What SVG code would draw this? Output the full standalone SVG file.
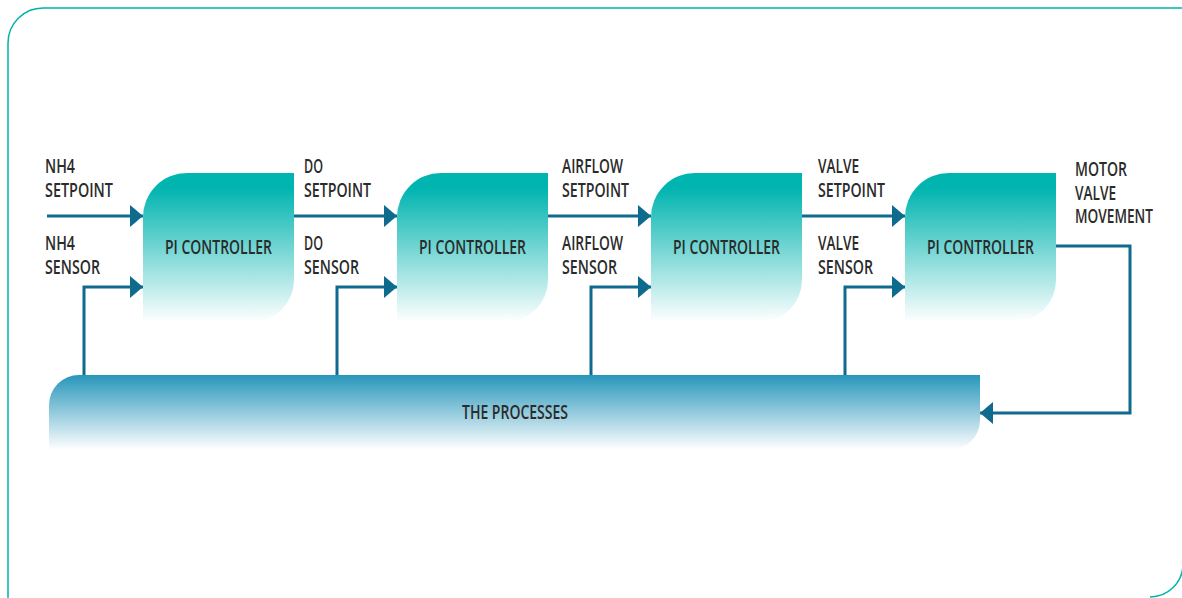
<svg xmlns="http://www.w3.org/2000/svg" width="1182" height="598" viewBox="0 0 1182 598">
<defs>
<linearGradient id="gc" x1="0" y1="0" x2="0" y2="1">
<stop offset="0" stop-color="#00b4af"/>
<stop offset="0.1" stop-color="#00b4af"/>
<stop offset="1" stop-color="#ffffff"/>
</linearGradient>
<linearGradient id="gp" x1="0" y1="0" x2="0" y2="1">
<stop offset="0" stop-color="#2796bb"/>
<stop offset="1" stop-color="#ffffff"/>
</linearGradient>
<marker id="ah" viewBox="0 0 13 22" refX="13" refY="11" markerWidth="13" markerHeight="22" markerUnits="userSpaceOnUse" orient="auto">
<path d="M0 0 L13 11 L0 22 Z" fill="#0f6b8e"/>
</marker>
</defs>
<style>
text{font-family:"Open Sans","DejaVu Sans Condensed",sans-serif;font-size:20.5px;font-weight:600;fill:#2b2b2b;}
.c{text-anchor:middle;}
.ln{fill:none;stroke:#0f6b8e;stroke-width:3;}
.ctl{fill:url(#gc);}
</style>
<path d="M8 598 L8 43 A35 35 0 0 1 43 8 L1182 8 M1150 597 A33 33 0 0 0 1183 564" fill="none" stroke="#00b2ad" stroke-width="1.5"/>

<g id="connectors">
<line class="ln" x1="47" y1="216" x2="143" y2="216" marker-end="url(#ah)"/>
<line class="ln" x1="294" y1="216" x2="397" y2="216" marker-end="url(#ah)"/>
<line class="ln" x1="548" y1="216" x2="651" y2="216" marker-end="url(#ah)"/>
<line class="ln" x1="802" y1="216" x2="905" y2="216" marker-end="url(#ah)"/>
<polyline class="ln" points="84,376 84,287 143,287" marker-end="url(#ah)"/>
<polyline class="ln" points="337,376 337,287 397,287" marker-end="url(#ah)"/>
<polyline class="ln" points="591,376 591,287 651,287" marker-end="url(#ah)"/>
<polyline class="ln" points="845,376 845,287 905,287" marker-end="url(#ah)"/>
<polyline class="ln" points="1056,246 1130,246 1130,413 980,413" marker-end="url(#ah)"/>
</g>

<g id="processes">
<path d="M49 450 L49 405 A30 30 0 0 1 79 375 L980 375 L980 420 A30 30 0 0 1 950 450 Z" fill="url(#gp)"/>
<text class="c" x="515" y="419" textLength="106" lengthAdjust="spacingAndGlyphs">THE PROCESSES</text>
</g>

<g id="controller1">
<path class="ctl" d="M143 322 L143 217 A44 44 0 0 1 187 173 L294 173 L294 280 A42 42 0 0 1 252 322 Z"/>
<text class="c" x="218.5" y="254" textLength="107" lengthAdjust="spacingAndGlyphs">PI CONTROLLER</text>
</g>
<g id="controller2">
<path class="ctl" d="M397 322 L397 217 A44 44 0 0 1 441 173 L548 173 L548 280 A42 42 0 0 1 506 322 Z"/>
<text class="c" x="472.5" y="254" textLength="107" lengthAdjust="spacingAndGlyphs">PI CONTROLLER</text>
</g>
<g id="controller3">
<path class="ctl" d="M651 322 L651 217 A44 44 0 0 1 695 173 L802 173 L802 280 A42 42 0 0 1 760 322 Z"/>
<text class="c" x="726.5" y="254" textLength="107" lengthAdjust="spacingAndGlyphs">PI CONTROLLER</text>
</g>
<g id="controller4">
<path class="ctl" d="M905 322 L905 217 A44 44 0 0 1 949 173 L1056 173 L1056 280 A42 42 0 0 1 1014 322 Z"/>
<text class="c" x="980.5" y="254" textLength="107" lengthAdjust="spacingAndGlyphs">PI CONTROLLER</text>
</g>

<g id="labels">
<text x="45" y="173" textLength="30" lengthAdjust="spacingAndGlyphs">NH4</text>
<text x="45" y="197" textLength="68" lengthAdjust="spacingAndGlyphs">SETPOINT</text>
<text x="45" y="250" textLength="30" lengthAdjust="spacingAndGlyphs">NH4</text>
<text x="45" y="274" textLength="55" lengthAdjust="spacingAndGlyphs">SENSOR</text>

<text x="304" y="173" textLength="19" lengthAdjust="spacingAndGlyphs">DO</text>
<text x="304" y="197" textLength="67" lengthAdjust="spacingAndGlyphs">SETPOINT</text>
<text x="304" y="250" textLength="19" lengthAdjust="spacingAndGlyphs">DO</text>
<text x="304" y="274" textLength="55" lengthAdjust="spacingAndGlyphs">SENSOR</text>

<text x="562" y="173" textLength="61" lengthAdjust="spacingAndGlyphs">AIRFLOW</text>
<text x="562" y="197" textLength="67" lengthAdjust="spacingAndGlyphs">SETPOINT</text>
<text x="562" y="250" textLength="61" lengthAdjust="spacingAndGlyphs">AIRFLOW</text>
<text x="562" y="274" textLength="55" lengthAdjust="spacingAndGlyphs">SENSOR</text>

<text x="818" y="173" textLength="41" lengthAdjust="spacingAndGlyphs">VALVE</text>
<text x="818" y="197" textLength="67" lengthAdjust="spacingAndGlyphs">SETPOINT</text>
<text x="818" y="250" textLength="41" lengthAdjust="spacingAndGlyphs">VALVE</text>
<text x="818" y="274" textLength="55" lengthAdjust="spacingAndGlyphs">SENSOR</text>

<text x="1075" y="176" textLength="52" lengthAdjust="spacingAndGlyphs">MOTOR</text>
<text x="1075" y="200" textLength="41" lengthAdjust="spacingAndGlyphs">VALVE</text>
<text x="1075" y="223" textLength="78" lengthAdjust="spacingAndGlyphs">MOVEMENT</text>
</g>
</svg>
